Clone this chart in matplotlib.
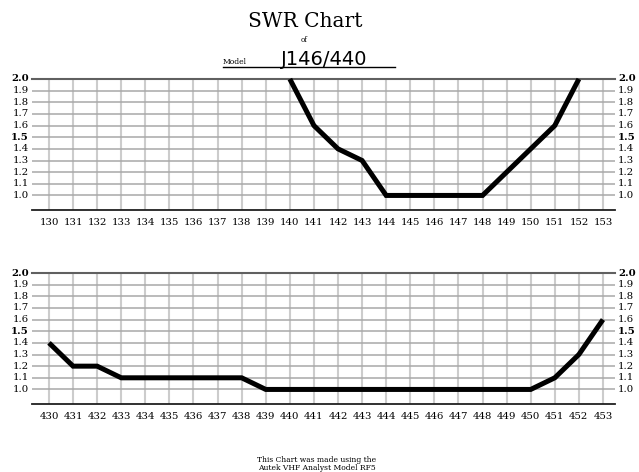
import matplotlib
matplotlib.use("Agg")
import matplotlib.pyplot as plt
from matplotlib.lines import Line2D

# VHF band sweep (MHz) and measured SWR
vhf_freq = [140, 141, 142, 143, 144, 145, 146, 147, 148, 149, 150, 151, 152]
vhf_swr = [2.0, 1.6, 1.4, 1.3, 1.0, 1.0, 1.0, 1.0, 1.0, 1.2, 1.4, 1.6, 2.0]
vhf_ticks = list(range(130, 154))

# UHF band sweep (MHz) and measured SWR
uhf_freq = list(range(430, 454))
uhf_swr = [1.4, 1.2, 1.2, 1.1, 1.1, 1.1, 1.1, 1.1, 1.1, 1.0, 1.0, 1.0,
           1.0, 1.0, 1.0, 1.0, 1.0, 1.0, 1.0, 1.0, 1.0, 1.1, 1.3, 1.6]
uhf_ticks = list(range(430, 454))

swr_ticks = [1.0, 1.1, 1.2, 1.3, 1.4, 1.5, 1.6, 1.7, 1.8, 1.9, 2.0]

W, H = 639, 472
fig = plt.figure(figsize=(W / 100, H / 100), dpi=100)
fig.patch.set_facecolor("white")


def px(x, y):
    return x / W, 1 - y / H


def swr_panel(top_px, freq, swr, ticks):
    left, right = 32, 615
    height = 131
    ax = fig.add_axes([left / W, 1 - (top_px + height) / H, (right - left) / W, height / H])
    ax.set_xlim(ticks[0] - 0.705, ticks[-1] + 0.5)
    ax.set_ylim(0.875, 2.0)

    # grid
    for t in ticks:
        ax.axvline(t, color="#cccccc", lw=1.5, zorder=1)
    for v in swr_ticks[:-1]:
        ax.axhline(v, color="#a8a8a8", lw=1.1, zorder=1)
    ax.axhline(2.0, color="#606060", lw=1.5, zorder=2, clip_on=False)

    for s in ["left", "right", "top"]:
        ax.spines[s].set_visible(False)
    ax.spines["bottom"].set_color("#202020")
    ax.spines["bottom"].set_linewidth(1.3)

    ax.plot(freq, swr, color="black", lw=3.6, solid_joinstyle="miter",
            solid_capstyle="butt", zorder=3, clip_on=False)

    ax.set_xticks(ticks)
    ax.set_xticklabels([str(t) for t in ticks], family="DejaVu Serif", fontsize=7.3)
    ax.tick_params(axis="x", length=0, pad=6)
    ax.set_yticks([])

    # SWR labels on both sides
    for v in swr_ticks:
        bold = v in (1.5, 2.0)
        kw = dict(family="DejaVu Serif", fontsize=7.3, va="center",
                  fontweight="bold" if bold else "normal", transform=ax.get_yaxis_transform())
        ax.text(-0.006, v, "%.1f" % v, ha="right", **kw)
        ax.text(1.005, v, "%.1f" % v, ha="left", **kw)
    return ax


swr_panel(79, vhf_freq, vhf_swr, vhf_ticks)
swr_panel(273, uhf_freq, uhf_swr, uhf_ticks)

# heading
fig.text(*px(305, 27), "SWR Chart", family="DejaVu Serif", fontsize=14.5, ha="center", va="baseline")
fig.text(*px(304, 40), "of", family="DejaVu Serif", fontsize=5, ha="center", va="center")
fig.text(*px(223, 64), "Model", family="DejaVu Serif", fontsize=5.5, ha="left", va="baseline")
fig.text(*px(324, 65), "J146/440", family="DejaVu Sans", fontsize=14,
         ha="center", va="baseline")
x0, y0 = px(223, 66.5)
x1, _ = px(395, 66.5)
fig.add_artist(Line2D([x0, x1], [y0, y0], color="black", lw=1.0, transform=fig.transFigure))

# footer
fig.text(*px(317, 460), "This Chart was made using the", family="DejaVu Serif", fontsize=5.5,
         ha="center", va="center")
fig.text(*px(317, 468), "Autek VHF Analyst Model RF5", family="DejaVu Serif", fontsize=5.5,
         ha="center", va="center")

fig.savefig("out.png", dpi=100)
